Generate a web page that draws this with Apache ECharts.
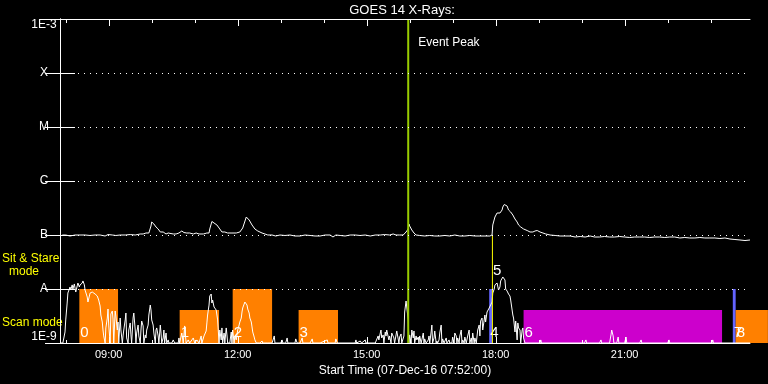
<!DOCTYPE html>
<html><head><meta charset="utf-8">
<script src="https://cdn.jsdelivr.net/npm/echarts@6/dist/echarts.min.js"></script>
<style>html,body{margin:0;padding:0;background:#000}#c{width:768px;height:384px}</style>
</head><body><div id="c"></div><script>
// time unit: minutes after start time 07:52 ; flux unit: nW/m^2 (1e-9 W/m^2)
const startClock = 7 * 60 + 52;
const axisEndMin = 963;
const hourTickMins = [8, 68, 128, 188, 248, 308, 368, 428, 488, 548, 608, 668, 728, 788, 848, 908];
const majorTickMins = [68, 248, 428, 608, 788];
const fluxLevelNames = { 0: '1E-9', 1: 'A', 2: 'B', 3: 'C', 4: 'M', 5: 'X', 6: '1E-3' };

// GOES 1-8 A (long channel)
const longChannel = [[0,95.8],[4,100],[8,100],[14,95.8],[21,100],[28,100],[35,100],[42,98],[49,100],[56,100],[63,95.8],[67,102],[73,100],[78,98],[84,100],[91,100],[98,102],[105,100],[112,104.4],[116,104.4],[120,108.9],[124,108.9],[127,146.8],[128,174.1],[131,159.9],[134,140.7],[137,129.2],[140,113.7],[144,113.7],[148,104.4],[151,108.9],[153,104.4],[158,104.4],[162,104.4],[166,108.9],[170,118.6],[173,111],[177,108.9],[181,108.9],[186,104.4],[190,108.9],[194,104.4],[200,104.4],[205,108.9],[208,108.9],[209,129.2],[212,178],[215,166.8],[219,153.2],[223,129.2],[226,113.7],[230,113.7],[234,108.9],[240,108.9],[246,108.9],[251,113.7],[255,134.8],[260,215.4],[264,189.6],[268,153.2],[272,129.2],[276,118.6],[282,108.9],[286,104.4],[290,100],[296,100],[301,95.8],[307,100],[314,98],[321,100],[328,95.8],[335,95.8],[342,100],[349,98],[356,95.8],[363,95.8],[370,100],[377,100],[381,91.8],[385,100],[391,98],[398,95.8],[405,100],[412,100],[419,98],[426,100],[433,95.8],[440,100],[447,100],[453,102],[460,100],[465,104.4],[469,100],[474,100],[479,100],[483,113.7],[486,129.2],[487,159.9],[488,146.8],[491,123.8],[494,108.9],[497,100],[502,98],[509,95.8],[516,98],[523,95.8],[530,95.8],[537,98],[544,95.8],[551,100],[558,95.8],[565,95.8],[572,98],[579,95.8],[586,95.8],[593,95.8],[600,95.8],[603,100],[604,153.2],[607,215.4],[610,255.5],[614,255.5],[617,290.4],[618,330],[620,367],[621,359],[624,344],[626,290.4],[629,266.6],[632,234.6],[635,197.8],[638,174.1],[640,153.2],[643,140.7],[647,129.2],[652,121],[656,113.7],[660,113.7],[663,118.6],[666,121],[670,113.7],[674,108.9],[678,104.4],[684,100],[691,98],[698,95.8],[705,95.8],[712,95.8],[719,91.8],[726,93.8],[733,91.8],[740,95.8],[746,91.8],[753,91.8],[760,93.8],[767,91.8],[774,91.8],[781,93.8],[788,91.8],[795,89.9],[802,91.8],[809,91.8],[816,91.8],[823,89.9],[830,91.8],[837,91.8],[844,89.9],[851,91.8],[858,91.8],[865,88],[872,89.9],[879,88],[886,88],[893,89.9],[900,88],[907,88],[914,88],[921,86.1],[928,88],[935,84.3],[942,82.5],[949,80.8],[956,79],[963,80.8]];

// GOES 0.5-4 A (short channel)
const shortChannel = [[0,1],[4,1],[6,1],[7,1.6],[8,2.67],[10,5.5],[11,8.42],[13,10],[14,10.9],[15,9.57],[17,11.9],[18,10],[20,12.4],[21,10.4],[22,8.79],[24,11.4],[25,12.9],[27,10.9],[28,11.9],[29,12.4],[31,12.9],[32,14.1],[34,11.9],[35,9.57],[36,9.17],[38,7.1],[39,5.74],[41,7.41],[42,8.42],[43,8.07],[45,8.79],[46,8.42],[47,9.17],[49,8.07],[50,8.42],[52,7.41],[53,7.41],[54,6.25],[56,4.84],[57,3.3],[59,2.45],[60,1.74],[61,1.35],[63,1],[64,1.9],[66,2.9],[67,4.26],[68,2.15],[70,1],[71,3.44],[73,3.91],[74,2.78],[75,1],[77,3.91],[78,3.16],[80,1.74],[81,2.45],[82,1],[84,2.9],[85,1.74],[87,1],[88,1.35],[89,1.74],[91,2.67],[92,3.59],[93,1.24],[95,1],[96,1.74],[98,2.35],[99,1.41],[100,1],[102,2.9],[103,3.59],[105,1.74],[106,1],[107,1.53],[109,2.15],[110,1.35],[112,1],[113,1.74],[114,2.55],[116,2.07],[117,1],[119,1.41],[120,1.24],[121,1.74],[123,2.15],[124,3.3],[126,5.05],[127,4.08],[128,2.67],[130,2.15],[131,1.53],[133,1],[134,1.74],[135,1.9],[137,1.35],[138,1],[140,2.15],[141,1.53],[142,1],[144,1.24],[145,1.74],[146,1],[148,1.53],[149,1],[151,1.14],[152,1],[156,1],[158,1.14],[160,1],[165,1],[166,1.24],[167,1],[170,1.53],[172,1],[174,2.07],[176,1],[179,1.14],[181,1],[186,1.24],[188,1],[191,1.14],[194,1],[197,1.35],[198,1],[201,1.35],[204,1.67],[205,2.35],[206,3.3],[208,5.05],[209,7.41],[211,8.07],[212,5.5],[213,6.25],[215,4.64],[216,5.05],[218,4.08],[219,3.75],[220,2.67],[222,1],[223,1.74],[225,1.14],[226,1.9],[227,1],[229,1.53],[230,1],[232,1.9],[233,1.41],[234,1],[237,1],[239,1.6],[240,1],[241,1.74],[243,1],[244,1.35],[246,1.14],[247,1.24],[248,1.74],[250,2.15],[251,2.45],[253,2.9],[254,3.75],[255,4.45],[257,5.27],[258,5.74],[260,5.5],[261,5.05],[262,4.26],[264,3.59],[265,2.9],[267,2.45],[268,1.98],[269,1.6],[271,1.29],[272,1.14],[274,1],[279,1],[282,1.09],[283,1],[290,1],[296,1],[299,1.35],[300,1],[308,1],[310,1.14],[311,1],[315,1],[317,1.24],[318,1],[324,1],[328,1],[329,1.19],[331,1],[335,1],[338,1.24],[339,1],[349,1],[352,1.19],[353,1],[363,1],[373,1.14],[374,1],[384,1],[385,1.19],[387,1],[412,1],[413,1.14],[414,1],[419,1.09],[421,1],[426,1.14],[427,1],[440,1],[444,1.35],[445,1.14],[447,1.53],[448,1.74],[449,1.24],[451,1.41],[452,1],[454,1.6],[455,1.35],[456,1.74],[458,1.82],[459,1.14],[460,1.35],[462,1],[463,1.53],[465,1.53],[466,1.24],[467,1],[469,1.41],[470,1.67],[472,1.6],[473,1],[474,1.29],[476,1.47],[477,1],[480,1.35],[481,3.75],[483,5.99],[484,6.25],[486,2.67],[487,1],[488,1.41],[490,1],[491,1.74],[493,1.24],[494,1.67],[495,1],[497,1.35],[498,1.14],[500,1.29],[501,1],[502,1.35],[504,1],[505,1.14],[507,1.53],[508,1],[509,1.19],[511,1],[514,1.14],[515,1.35],[516,1],[518,1.6],[519,2.15],[520,1],[522,1.24],[523,1.67],[525,1],[526,1.09],[527,1],[529,1.14],[530,1.53],[532,2.15],[533,1],[534,1.19],[536,1],[539,1.24],[540,1],[543,1.14],[544,1],[547,1],[548,1.29],[550,1],[551,1.53],[553,1.35],[554,1],[555,1.24],[557,1],[558,1.35],[560,1.74],[561,1],[562,1.14],[564,1],[565,1.29],[567,1],[569,1.35],[571,1.74],[572,1],[574,1.24],[575,1],[576,1.53],[578,1],[579,1.24],[581,1],[583,1.74],[585,2.15],[586,1.35],[587,2.55],[589,2.9],[590,1.74],[592,2.67],[593,3.3],[594,2.45],[596,3.75],[597,4.08],[599,4.45],[600,4.84],[601,4.64],[603,5.74],[604,8.42],[606,10],[607,11.9],[608,11.4],[610,12.9],[611,12.4],[612,9.57],[614,10.9],[615,14.1],[617,15.3],[618,16.7],[619,16.7],[621,14.7],[622,10],[624,9.17],[625,8.79],[626,8.07],[628,7.41],[629,6.25],[631,4.08],[632,3.3],[633,2.9],[635,1.6],[636,2.55],[638,1.14],[639,2.35],[640,1.9],[642,1.74],[643,1],[645,1.74],[646,1.9],[647,1.24],[649,1],[670,1],[671,1.14],[672,1],[732,1],[734,1.14],[735,1],[753,1],[755,1.14],[756,1],[767,1],[769,1.41],[770,1.74],[772,1.35],[773,1],[777,1],[779,1.29],[780,1],[788,1],[790,1.29],[791,1],[809,1],[811,1.14],[812,1],[848,1],[850,1.14],[851,1],[910,1],[911,1.14],[912,1],[963,1]];

// observation blocks: [start min, end min, top flux, colour key, label]
const scanBlocks = [
  [27, 81, 10, 'orange', '0'],
  [167, 222, 4.1, 'orange', '1'],
  [241, 296, 10, 'orange', '2'],
  [333, 388, 4.1, 'orange', '3'],
  [599, 603, 10, 'blue', '4'],
  [647, 924, 4.1, 'magenta', '6'],
  [939, 943, 10, 'blue', '7'],
  [943, 988, 4.1, 'orange', '8']
];
const eventPeak = [486];
const flareMarker = [[603.5, 100, '5']];

const palette = { orange: '#ff8000', magenta: '#cc00cc', blue: '#6464ff' };
const FONT = 'Liberation Sans';

function clockLabel(v) {
  const t = Math.round(startClock + v);
  const h = Math.floor(t / 60) % 24, m = t % 60;
  return String(h).padStart(2, '0') + ':' + String(m).padStart(2, '0');
}

const chart = echarts.init(document.getElementById('c'), null, { renderer: 'canvas' });

chart.setOption({
  backgroundColor: '#000',
  animation: false,
  grid: { left: 60, top: 19, width: 690, height: 324 },
  xAxis: [
    {
      type: 'value', min: 0, max: axisEndMin, position: 'bottom', z: 10,
      splitLine: { show: false },
      axisLine: { lineStyle: { color: '#fff', width: 1 } },
      axisTick: { show: false },
      axisLabel: { customValues: majorTickMins, formatter: clockLabel, color: '#fff', fontSize: 11, fontFamily: FONT, margin: 6 },
      name: 'Start Time (07-Dec-16 07:52:00)', nameLocation: 'middle', nameGap: 20,
      nameTextStyle: { color: '#fff', fontSize: 12, fontFamily: FONT }
    },
    {
      type: 'value', min: 0, max: axisEndMin, position: 'top', z: 10,
      splitLine: { show: false },
      axisLine: { lineStyle: { color: '#fff', width: 1 } },
      axisTick: { show: false }, axisLabel: { show: false }
    }
  ],
  yAxis: [
    {
      type: 'log', logBase: 10, min: 1, max: 1e6, position: 'left', z: 10,
      axisLine: { show: true, lineStyle: { color: '#fff', width: 1 } },
      axisTick: { show: true, inside: true, length: 15, lineStyle: { color: '#fff' } },
      splitLine: { show: true, lineStyle: { color: '#fff', width: 1, type: [1, 5] } },
      axisLabel: {
        color: '#fff', fontSize: 12, fontFamily: FONT, align: 'center', margin: 16,
        verticalAlignMinLabel: 'bottom', verticalAlignMaxLabel: 'top',
        formatter: v => fluxLevelNames[Math.round(Math.log10(v))] || ''
      }
    },
    {
      type: 'log', logBase: 10, min: 1, max: 1e6, position: 'right', z: 10,
      axisLine: { show: true, lineStyle: { color: '#fff', width: 1 } },
      axisTick: { show: true, inside: true, length: 15, lineStyle: { color: '#fff' } },
      splitLine: { show: false },
      axisLabel: { show: false }
    }
  ],
  graphic: [
    { type: 'text', x: 402, y: 10, style: { text: 'GOES 14 X-Rays:', fill: '#fff', font: '13px ' + FONT, textAlign: 'center', textVerticalAlign: 'middle' } },
    { type: 'text', x: 2, y: 259, style: { text: 'Sit & Stare', fill: '#ffff00', font: '12px ' + FONT, textAlign: 'left', textVerticalAlign: 'middle' } },
    { type: 'text', x: 24, y: 272, style: { text: 'mode', fill: '#ffff00', font: '12px ' + FONT, textAlign: 'center', textVerticalAlign: 'middle' } },
    { type: 'text', x: 2, y: 323, style: { text: 'Scan mode', fill: '#ffff00', font: '12px ' + FONT, textAlign: 'left', textVerticalAlign: 'middle' } }
  ],
  series: [
    {
      type: 'custom', name: 'blocks', xAxisIndex: 0, yAxisIndex: 0, z: 1, clip: false,
      data: scanBlocks.map(b => [b[0], b[1], b[2]]),
      renderItem(params, api) {
        const b = scanBlocks[params.dataIndex];
        const p0 = api.coord([api.value(0), api.value(2)]);
        const p1 = api.coord([api.value(1), 1]);
        return {
          type: 'group', children: [
            { type: 'rect', shape: { x: p0[0], y: p0[1], width: p1[0] - p0[0], height: p1[1] - p0[1] }, style: { fill: palette[b[3]] } },
            { type: 'text', z2: 5, style: { text: b[4], x: p0[0] + 1, y: p1[1] - 3, textAlign: 'left', textVerticalAlign: 'bottom', fill: '#fff', font: '15px ' + FONT } }
          ]
        };
      }
    },
    {
      type: 'line', name: 'short', data: shortChannel, xAxisIndex: 0, yAxisIndex: 0, z: 3,
      symbol: 'none', lineStyle: { color: '#fff', width: 1 }
    },
    {
      type: 'line', name: 'long', data: longChannel, xAxisIndex: 0, yAxisIndex: 0, z: 3,
      symbol: 'none', lineStyle: { color: '#fff', width: 1 }
    },
    {
      // hourly time ticks on the top and bottom frame, drawn through the axis scale
      type: 'custom', name: 'timeTicks', xAxisIndex: 0, yAxisIndex: 0, z: 12, silent: true,
      data: hourTickMins.map(v => [v]),
      renderItem(params, api) {
        const v = api.value(0);
        const major = majorTickMins.indexOf(v) >= 0;
        const top = api.coord([v, 1e6]);
        const bot = api.coord([v, 1]);
        const x = Math.round(top[0]) + 0.5;
        return {
          type: 'group', children: [
            { type: 'line', shape: { x1: x, y1: top[1], x2: x, y2: top[1] + (major ? 7 : 4) }, style: { stroke: '#fff', lineWidth: 1 } },
            { type: 'line', shape: { x1: x, y1: bot[1], x2: x, y2: bot[1] - (major ? 6 : 3) }, style: { stroke: '#fff', lineWidth: 1 } }
          ]
        };
      }
    },
    {
      type: 'custom', name: 'flare', xAxisIndex: 0, yAxisIndex: 0, z: 4,
      data: flareMarker.map(f => [f[0], f[1]]),
      renderItem(params, api) {
        const top = api.coord([api.value(0), api.value(1)]);
        const bot = api.coord([api.value(0), 1]);
        const aLvl = api.coord([api.value(0), 10]);
        return {
          type: 'group', children: [
            { type: 'line', shape: { x1: top[0], y1: top[1], x2: bot[0], y2: bot[1] }, style: { stroke: '#ffff00', lineWidth: 1 } },
            { type: 'text', style: { text: flareMarker[params.dataIndex][2], x: top[0] + 0.5, y: aLvl[1] - 11, textAlign: 'left', textVerticalAlign: 'bottom', fill: '#fff', font: '15px ' + FONT } }
          ]
        };
      }
    },
    {
      type: 'custom', name: 'event', xAxisIndex: 0, yAxisIndex: 0, z: 5,
      data: eventPeak.map(v => [v]),
      renderItem(params, api) {
        const top = api.coord([api.value(0), 1e6]);
        const bot = api.coord([api.value(0), 1]);
        return {
          type: 'group', children: [
            { type: 'line', shape: { x1: top[0], y1: top[1], x2: bot[0], y2: bot[1] }, style: { stroke: '#99cc00', lineWidth: 2 } },
            { type: 'text', style: { text: 'Event Peak', x: top[0] + 10, y: top[1] + 24, textAlign: 'left', textVerticalAlign: 'middle', fill: '#fff', font: '12px ' + FONT } }
          ]
        };
      }
    }
  ]
});
</script></body></html>
